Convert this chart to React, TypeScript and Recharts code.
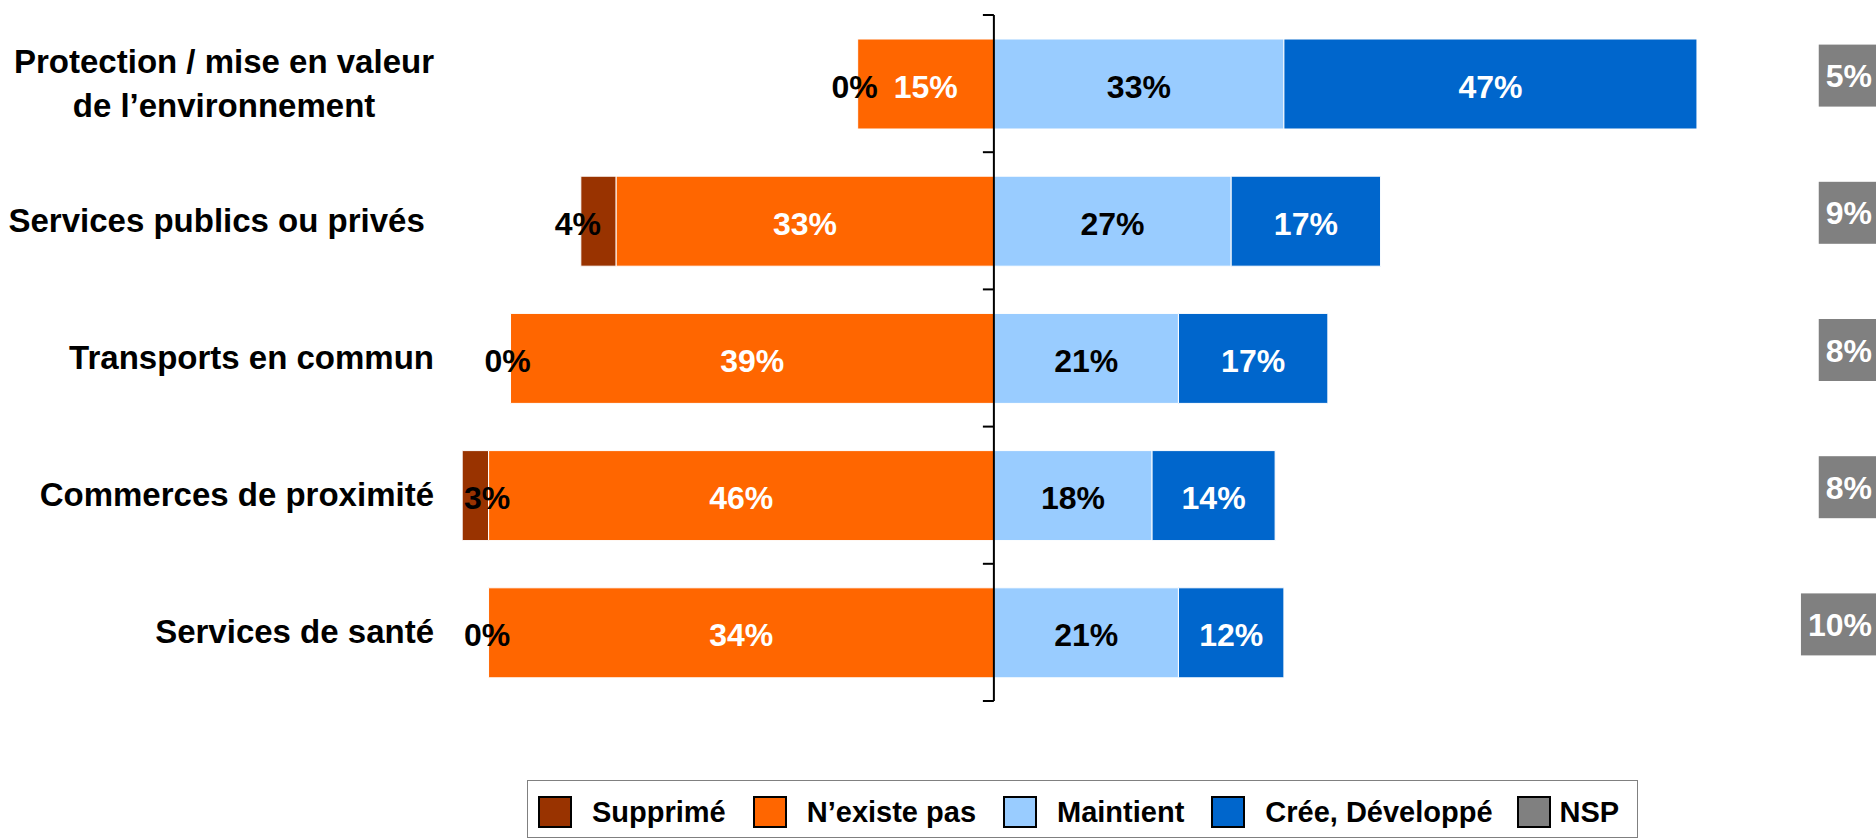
import React from 'react';
import { BarChart, Bar, XAxis, YAxis, LabelList, ReferenceLine, Legend } from 'recharts';

// ---------- data ----------
const categories = [
  'Protection / mise en valeur\nde l’environnement',
  'Services publics ou privés\u00a0',
  'Transports en commun',
  'Commerces de proximité',
  'Services de santé',
];
// bar lengths as drawn in the picture (percentage points)
const supprime = [0, 4, 0, 3, 0];
const nexistePas = [15.5, 43, 55, 57.5, 57.5];
const maintient = [33, 27, 21, 18, 21];
const creeDeveloppe = [47, 17, 17, 14, 12];
const nsp = [5, 9, 8, 8, 10];
// printed labels
const supprimeLabels = ['0%', '4%', '0%', '3%', '0%'];
const nexistePasLabels = ['15%', '33%', '39%', '46%', '34%'];
const seriesNames = ['Supprimé', 'N’existe pas', 'Maintient', 'Crée, Développé', 'NSP'];

const X_DOMAIN: [number, number] = [-62, 94];

const data = categories.map((name, i) => ({
  name,
  supprime: -supprime[i],
  nexistePas: -nexistePas[i],
  maintient: maintient[i],
  cree: creeDeveloppe[i],
}));

// ---------- style ----------
const FONT = "'Liberation Sans', Arial, Helvetica, sans-serif";
const BROWN = '#993300';
const ORANGE = '#FF6600';
const LIGHT = '#99CCFF';
const DARK = '#0066CC';
const GRAY = '#808080';
const legendColors = [BROWN, ORANGE, LIGHT, DARK, GRAY];
const CAT_SIZE = 33;

let ctx: CanvasRenderingContext2D | null = null;
const measure = (s: string, size: number) => {
  try {
    if (!ctx) ctx = document.createElement('canvas').getContext('2d');
    if (ctx) {
      ctx.font = `bold ${size}px ${FONT}`;
      return ctx.measureText(s).width;
    }
  } catch (e) {}
  return s.length * size * 0.55;
};

const getBox = (p: any) => {
  const vb = p.viewBox && p.viewBox.width !== undefined ? p.viewBox : p;
  const x = Number(vb.x);
  const w = Number(vb.width);
  const y = Number(vb.y);
  const h = Number(vb.height);
  return { left: Math.min(x, x + w), right: Math.max(x, x + w), cy: y + h / 2, w: Math.abs(w) };
};

const txt = (x: number, y: number, s: string, fill: string, anchor = 'middle', size = 32) => (
  <text x={x} y={y} textAnchor={anchor} fill={fill} fontFamily={FONT} fontWeight="bold" fontSize={size}>
    {s}
  </text>
);

const orangeLabel = (p: any) => {
  const b = getBox(p);
  return txt((b.left + b.right) / 2, b.cy + 13.5, nexistePasLabels[p.index], '#fff');
};
const brownLabel = (p: any) => {
  const b = getBox(p);
  const pxPer = b.w / nexistePas[p.index];
  const brownLeft = b.left - supprime[p.index] * pxPer;
  const label = supprimeLabels[p.index];
  const half = measure(label, 32) / 2;
  const plotLeft = b.right + X_DOMAIN[0] * pxPer;
  const cx = Math.max(brownLeft - 3, plotLeft + 15 + half);
  return txt(cx, b.cy + 13.5, label, '#000');
};
const centerLabel = (color: string) => (p: any) => {
  const b = getBox(p);
  return txt((b.left + b.right) / 2, b.cy + 13.5, `${p.value}%`, color);
};

const CategoryTick = (props: any) => {
  const { x, y, payload } = props;
  const lines = String(payload.value).split('\n');
  const right = x - 15;
  if (lines.length === 1) {
    return txt(right, y + 11, lines[0], '#000', 'end', CAT_SIZE);
  }
  const maxW = Math.max(...lines.map((l) => measure(l, CAT_SIZE)));
  const cx = right - maxW / 2;
  return (
    <text textAnchor="middle" fill="#000" fontFamily={FONT} fontWeight="bold" fontSize={CAT_SIZE}>
      {lines.map((l, i) => (
        <tspan key={i} x={cx} y={y + 11 + (i - (lines.length - 1) / 2) * 44}>
          {l}
        </tspan>
      ))}
    </text>
  );
};

const NspTick = (props: any) => {
  const { x, y } = props;
  const index = props.index ?? props.payload?.index ?? 0;
  const label = `${nsp[index]}%`;
  const tw = measure(label, 32);
  const right = x + 52;
  const cy = y - 8;
  return (
    <g>
      <rect x={right - tw - 7} y={cy - 31} width={tw + 24} height={62} fill={GRAY} />
      {txt(right, cy + 11.5, label, '#fff', 'end')}
    </g>
  );
};

const AxisShape = (props: any) => {
  const { x1, y1, y2 } = props;
  const n = categories.length;
  const ticks = [];
  for (let i = 0; i <= n; i++) {
    const ty = y1 + ((y2 - y1) * i) / n;
    ticks.push(<line key={i} x1={x1 - 11} y1={ty} x2={x1} y2={ty} stroke="#000" strokeWidth={2} />);
  }
  return (
    <g>
      <line x1={x1} y1={y1} x2={x1} y2={y2} stroke="#000" strokeWidth={2} />
      {ticks}
    </g>
  );
};

const renderLegend = () => (
  <div
    style={{
      boxSizing: 'border-box',
      width: 1111,
      height: 58,
      border: `1px solid ${GRAY}`,
      display: 'flex',
      alignItems: 'center',
      paddingLeft: 10,
      paddingTop: 6,
      fontFamily: FONT,
      fontWeight: 'bold',
      fontSize: 29,
      color: '#000',
      background: '#fff',
      whiteSpace: 'nowrap',
    }}
  >
    {seriesNames.map((n, i) => (
      <div key={n} style={{ display: 'flex', alignItems: 'center', marginRight: i === 3 ? 24 : 27 }}>
        <span
          style={{
            display: 'inline-block',
            width: 34,
            height: 32,
            boxSizing: 'border-box',
            border: '2px solid #000',
            background: legendColors[i],
            marginRight: i === 4 ? 9 : 20,
          }}
        />
        <span>{n}</span>
      </div>
    ))}
  </div>
);

export default function App() {
  return (
    <div style={{ position: 'absolute', left: 8, top: 8, width: 1868, height: 831, background: '#fff' }}>
      <BarChart
        width={1868}
        height={831}
        data={data}
        layout="vertical"
        stackOffset="sign"
        margin={{ top: 7, right: 0, bottom: 138, left: 0 }}
        barSize={90}
      >
        <XAxis type="number" domain={X_DOMAIN} hide allowDataOverflow />
        <YAxis
          type="category"
          dataKey="name"
          width={441}
          axisLine={false}
          tickLine={false}
          tickSize={0}
          tickMargin={0}
          interval={0}
          tick={<CategoryTick />}
        />
        <YAxis
          yAxisId="nsp"
          orientation="right"
          type="category"
          dataKey="name"
          width={56}
          axisLine={false}
          tickLine={false}
          tickSize={0}
          tickMargin={0}
          interval={0}
          tick={<NspTick />}
        />
        <Bar dataKey="nexistePas" stackId="s" fill={ORANGE} stroke="#fff" strokeWidth={1} isAnimationActive={false}>
          <LabelList dataKey="nexistePas" content={orangeLabel} />
          <LabelList dataKey="nexistePas" content={brownLabel} />
        </Bar>
        <Bar dataKey="supprime" stackId="s" fill={BROWN} stroke="#fff" strokeWidth={1} isAnimationActive={false} />
        <Bar dataKey="maintient" stackId="s" fill={LIGHT} stroke="#fff" strokeWidth={1} isAnimationActive={false}>
          <LabelList dataKey="maintient" content={centerLabel('#000')} />
        </Bar>
        <Bar dataKey="cree" stackId="s" fill={DARK} stroke="#fff" strokeWidth={1} isAnimationActive={false}>
          <LabelList dataKey="cree" content={centerLabel('#fff')} />
        </Bar>
        <ReferenceLine x={0} shape={AxisShape} ifOverflow="visible" />
        <Legend
          layout="horizontal"
          verticalAlign="middle"
          align="center"
          content={renderLegend}
          wrapperStyle={{ left: 519, top: 772, width: 1111, height: 58 }}
        />
      </BarChart>
    </div>
  );
}
